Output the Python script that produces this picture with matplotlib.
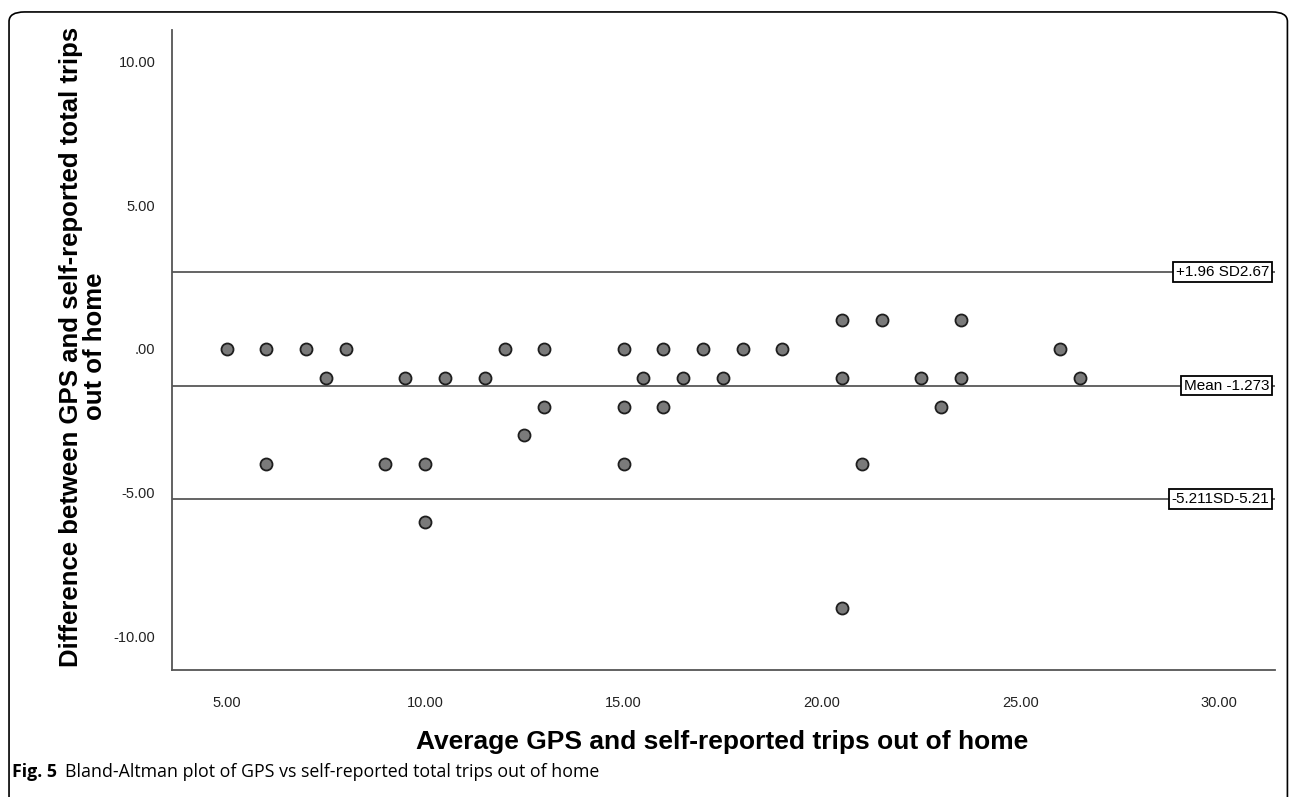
"""Bland-Altman plot: GPS vs self-reported total trips out of home."""

import matplotlib.pyplot as plt
from matplotlib.patches import FancyBboxPatch
from matplotlib.transforms import blended_transform_factory

plt.rcParams["font.family"] = ["Liberation Sans", "DejaVu Sans"]

# average of the two methods (x) and their difference (y)
avg_trips = [
    5, 6, 7, 8, 12, 13, 15, 16, 17, 18, 19, 26,
    7.5, 9.5, 10.5, 11.5, 15.5, 16.5, 17.5, 20.5, 22.5, 23.5, 26.5,
    13, 15, 16, 23,
    12.5,
    6, 9, 10, 15, 21,
    10,
    20.5,
    20.5, 21.5, 23.5,
]
diff_trips = [
    0, 0, 0, 0, 0, 0, 0, 0, 0, 0, 0, 0,
    -1, -1, -1, -1, -1, -1, -1, -1, -1, -1, -1,
    -2, -2, -2, -2,
    -3,
    -4, -4, -4, -4, -4,
    -6,
    -9,
    1, 1, 1,
]

mean_diff = -1.273
upper_loa = 2.67
lower_loa = -5.21
ref_lines = [upper_loa, mean_diff, lower_loa]
ref_labels = ["+1.96 SD2.67", "Mean -1.273", "-5.211SD-5.21"]

y_ticks = [-10, -5, 0, 5, 10]
y_tick_labels = ["-10.00", "-5.00", ".00", "5.00", "10.00"]
x_ticks = [5, 10, 15, 20, 25, 30]
x_tick_labels = ["5.00", "10.00", "15.00", "20.00", "25.00", "30.00"]

fig = plt.figure(figsize=(12.9, 7.97), dpi=100)
ax = fig.add_axes([0.1333, 0.1593, 0.8547, 0.8031])

for y in ref_lines:
    ax.axhline(y, color="#3a3a3a", lw=1.1, zorder=1)

ax.scatter(avg_trips, diff_trips, s=75, facecolor="#7a7a7a",
           edgecolor="#1e1e1e", linewidth=1.3, zorder=3)

trans = blended_transform_factory(ax.transAxes, ax.transData)
for y, lab in zip(ref_lines, ref_labels):
    ax.text(0.9955, y, lab, transform=trans, ha="right", va="center",
            fontsize=11, zorder=4,
            bbox=dict(boxstyle="square,pad=0.18", fc="white", ec="black", lw=1.3))

ax.set_xlim(3.62, 31.4)
ax.set_ylim(-11.15, 11.08)
ax.set_xticks(x_ticks)
ax.set_xticklabels(x_tick_labels)
ax.set_yticks(y_ticks)
ax.set_yticklabels(y_tick_labels)
ax.tick_params(length=0, labelsize=10.5, colors="#222222")
ax.tick_params(axis="x", pad=19)
ax.tick_params(axis="y", pad=12)

for side in ("top", "right"):
    ax.spines[side].set_visible(False)
for side in ("left", "bottom"):
    ax.spines[side].set_color("#555555")
    ax.spines[side].set_linewidth(1.3)

fig.text(0.56, 0.069, "Average GPS and self-reported trips out of home",
         ha="center", va="center", fontsize=19, fontweight="bold")
fig.text(0.064, 0.565,
         "Difference between GPS and self-reported total trips\nout of home",
         ha="center", va="center", rotation=90, fontsize=18.5,
         fontweight="bold", linespacing=1.0)

fig.text(0.009, 0.031, "Fig. 5", ha="left", va="center", fontsize=12.8,
         fontweight="bold", family=["Open Sans", "DejaVu Sans"])
fig.text(0.0505, 0.031,
         "Bland-Altman plot of GPS vs self-reported total trips out of home",
         ha="left", va="center", fontsize=12.8,
         family=["Open Sans", "DejaVu Sans"])

frame = FancyBboxPatch((0.007, -0.05), 0.991, 1.035, transform=fig.transFigure,
                       boxstyle="round,pad=0,rounding_size=0.012",
                       fc="none", ec="black", lw=1.2)
fig.patches.append(frame)

fig.savefig("out.png", dpi=100)
